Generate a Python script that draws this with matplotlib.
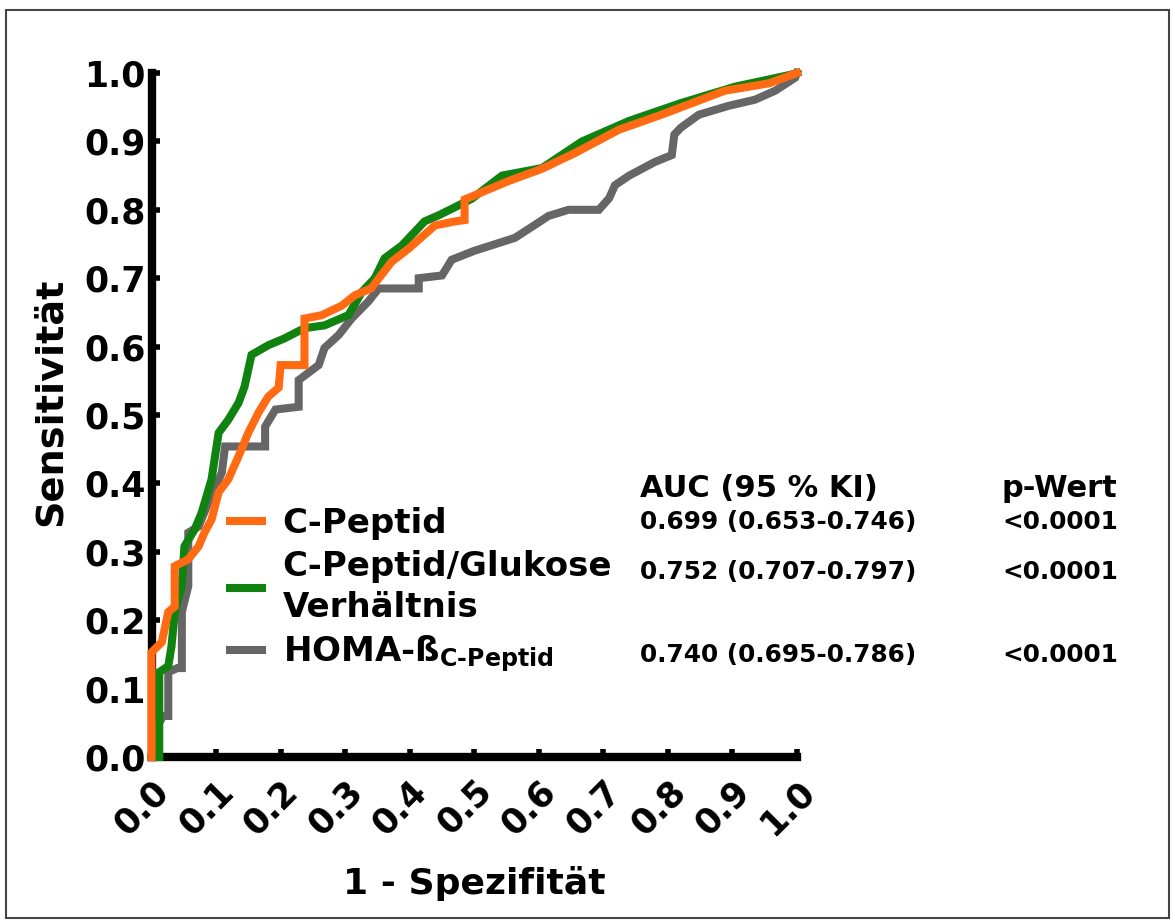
import matplotlib
matplotlib.use("Agg")
import matplotlib.pyplot as plt
from matplotlib.lines import Line2D
from matplotlib.patches import Rectangle

plt.rcParams['font.family'] = ['DejaVu Sans']
plt.rcParams['font.weight'] = 'bold'

# ---- data ----
cpep_x = [0, 0, 0.016, 0.026, 0.036, 0.036, 0.057, 0.073, 0.082, 0.093, 0.104, 0.119, 0.135, 0.15,
          0.166, 0.181, 0.197, 0.2, 0.237, 0.237, 0.264, 0.295, 0.315, 0.34, 0.372, 0.398, 0.439,
          0.47, 0.485, 0.485, 0.553, 0.605, 0.656, 0.724, 0.79, 0.888, 0.957, 1.0]
cpep_y = [0, 0.153, 0.168, 0.212, 0.22, 0.279, 0.289, 0.308, 0.328, 0.347, 0.387, 0.406, 0.44, 0.474,
          0.504, 0.527, 0.54, 0.573, 0.573, 0.641, 0.646, 0.66, 0.675, 0.685, 0.724, 0.743, 0.777,
          0.783, 0.785, 0.815, 0.842, 0.86, 0.883, 0.917, 0.939, 0.974, 0.985, 1.0]

ratio_x = [0, 0.012, 0.012, 0.026, 0.031, 0.036, 0.047, 0.051, 0.067, 0.078, 0.093, 0.104, 0.119,
           0.135, 0.144, 0.155, 0.181, 0.206, 0.237, 0.268, 0.305, 0.326, 0.346, 0.361, 0.388, 0.423,
           0.445, 0.496, 0.543, 0.605, 0.667, 0.74, 0.82, 0.904, 0.988, 1.0]
ratio_y = [0, 0, 0.124, 0.133, 0.162, 0.212, 0.25, 0.308, 0.333, 0.358, 0.406, 0.474, 0.493,
           0.518, 0.541, 0.588, 0.602, 0.612, 0.627, 0.631, 0.646, 0.68, 0.70, 0.729, 0.748, 0.783,
           0.792, 0.816, 0.85, 0.861, 0.90, 0.93, 0.956, 0.98, 0.997, 1.0]

homa_x = [0, 0.006, 0.006, 0.018, 0.026, 0.026, 0.04, 0.047, 0.047, 0.057, 0.057, 0.073, 0.088,
          0.109, 0.114, 0.176, 0.176, 0.192, 0.228, 0.228, 0.259, 0.268, 0.29, 0.31, 0.336, 0.352,
          0.414, 0.414, 0.45, 0.465, 0.50, 0.563, 0.594, 0.615, 0.646, 0.693, 0.709, 0.718, 0.74,
          0.78, 0.806, 0.81, 0.82, 0.848, 0.894, 0.935, 0.966, 0.997, 1.0]
homa_y = [0, 0, 0.04, 0.06, 0.06, 0.124, 0.13, 0.13, 0.212, 0.25, 0.328, 0.337, 0.372,
          0.416, 0.454, 0.454, 0.483, 0.508, 0.512, 0.551, 0.573, 0.598, 0.617, 0.641, 0.666, 0.685,
          0.685, 0.70, 0.704, 0.727, 0.74, 0.759, 0.778, 0.791, 0.80, 0.80, 0.817, 0.836, 0.85,
          0.87, 0.88, 0.91, 0.92, 0.939, 0.952, 0.961, 0.974, 0.993, 1.0]

series_names = ["C-Peptid", "C-Peptid/Glukose\nVerhältnis", r"HOMA-ß$_{\mathbf{C\text{-}Peptid}}$"]
auc_text = ["0.699 (0.653-0.746)", "0.752 (0.707-0.797)", "0.740 (0.695-0.786)"]
p_text = ["<0.0001", "<0.0001", "<0.0001"]
ticks = [0.0, 0.1, 0.2, 0.3, 0.4, 0.5, 0.6, 0.7, 0.8, 0.9, 1.0]
tick_labels = ["0.0", "0.1", "0.2", "0.3", "0.4", "0.5", "0.6", "0.7", "0.8", "0.9", "1.0"]

c_orange = "#ff6a13"
c_green = "#10820f"
c_gray = "#666666"

W, H = 1175, 922
fig = plt.figure(figsize=(W / 100, H / 100), dpi=100)
ax = fig.add_axes([151.5 / W, 1 - 757 / H, (797 - 151.5) / W, (757 - 73) / H])

lw = 5.8
ax.plot(homa_x, homa_y, color=c_gray, lw=lw, solid_joinstyle='miter', clip_on=False, zorder=3)
ax.plot(ratio_x, ratio_y, color=c_green, lw=lw, solid_joinstyle='miter', clip_on=False, zorder=4)
ax.plot(cpep_x, cpep_y, color=c_orange, lw=lw, solid_joinstyle='miter', clip_on=False, zorder=5)

ax.set_xlim(0, 1)
ax.set_ylim(0, 1)
for s in ['top', 'right']:
    ax.spines[s].set_visible(False)
for s in ['left', 'bottom']:
    ax.spines[s].set_linewidth(6)
    ax.spines[s].set_capstyle('projecting')

ax.set_xticks(ticks)
ax.set_yticks(ticks)
ax.set_yticklabels(tick_labels, fontsize=25, fontweight='bold')
ax.set_xticklabels(tick_labels, fontsize=25, fontweight='bold', rotation=45,
                   ha='right', va='top', rotation_mode='anchor')
ax.tick_params(axis='both', direction='in', length=6, width=4, color='black')
ax.tick_params(axis='y', pad=4)
ax.tick_params(axis='x', pad=12)

ax.set_xlabel("1 - Spezifität", fontsize=26, fontweight='bold', labelpad=18)
ax.set_ylabel("Sensitivität", fontsize=27.5, fontweight='bold')
ax.yaxis.set_label_coords(-0.128, 0.52)

# legend
handles = [Line2D([], [], color=c, lw=lw) for c in (c_orange, c_green, c_gray)]
leg = fig.legend(handles, series_names, loc='upper left',
                 bbox_to_anchor=(230 / W, 1 - 507 / H), frameon=False,
                 prop={'size': 24.5, 'weight': 'bold'}, handlelength=0.95,
                 handletextpad=0.6, labelspacing=0.28, borderpad=0, borderaxespad=0)
for t in leg.get_texts():
    t.set_linespacing(1.32)

# table
fig.text(640 / W, 1 - 488 / H, "AUC (95 % KI)", fontsize=22, fontweight='bold', va='center')
fig.text(1002 / W, 1 - 488 / H, "p-Wert", fontsize=22, fontweight='bold', va='center')
row_y = [522, 572, 655]
for ry, a, p in zip(row_y, auc_text, p_text):
    fig.text(640 / W, 1 - ry / H, a, fontsize=17.8, fontweight='bold', va='center')
    fig.text(1002 / W, 1 - ry / H, p, fontsize=17.8, fontweight='bold', va='center')

# outer frame
fig.patches.append(Rectangle((6 / W, 4 / H), (W - 12) / W, (H - 14) / H,
                             transform=fig.transFigure, fill=False,
                             edgecolor='#444444', lw=1.5))

fig.savefig("out.png", dpi=100)
